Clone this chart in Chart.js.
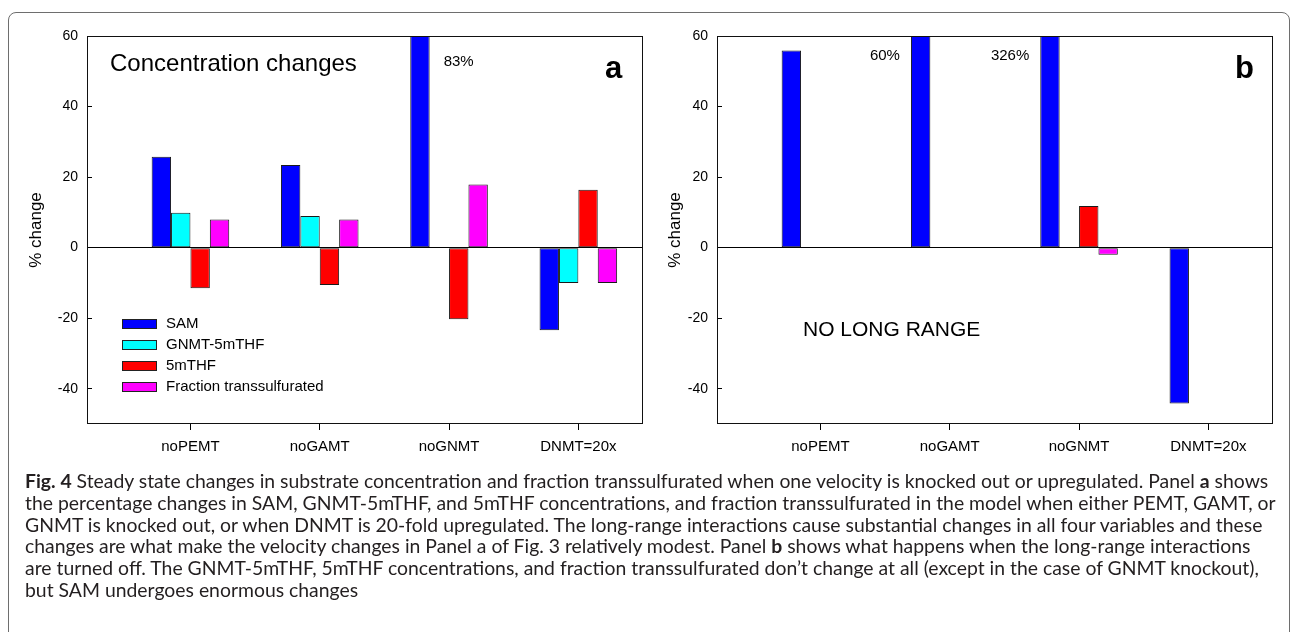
<!DOCTYPE html>
<html>
<head>
<meta charset="utf-8">
<script src="https://cdn.jsdelivr.net/npm/chart.js@4.4.0/dist/chart.umd.min.js"></script>
<style>
  html, body { margin: 0; padding: 0; background: #fff; }
  body { width: 1294px; height: 632px; overflow: hidden; position: relative; }
  #frame { position: absolute; left: 8px; top: 12px; width: 1282px; height: 700px;
           border: 1.5px solid #6e6e6e; border-radius: 8px; box-sizing: border-box; }
  canvas { position: absolute; top: 0; }
  #chartA { left: 0; }
  #chartB { left: 630px; }
  #caption { position: absolute; left: 25px; top: 470px; font-family: Lato, "Open Sans", sans-serif;
             font-size: 18px; line-height: 21.8px; color: #231f20; }
  #caption div { white-space: nowrap; }
</style>
</head>
<body>
<div id="frame"></div>
<canvas id="chartA" width="650" height="470"></canvas>
<canvas id="chartB" width="650" height="470"></canvas>
<div id="caption">
  <div id="capLine1"><b>Fig. 4</b> Steady state changes in substrate concentration and fraction transsulfurated when one velocity is knocked out or upregulated. Panel <b>a</b> shows</div>
  <div>the percentage changes in SAM, GNMT-5mTHF, and 5mTHF concentrations, and fraction transsulfurated in the model when either PEMT, GAMT, or</div>
  <div>GNMT is knocked out, or when DNMT is 20-fold upregulated. The long-range interactions cause substantial changes in all four variables and these</div>
  <div>changes are what make the velocity changes in Panel a of Fig. 3 relatively modest. Panel <b>b</b> shows what happens when the long-range interactions</div>
  <div>are turned off. The GNMT-5mTHF, 5mTHF concentrations, and fraction transsulfurated don’t change at all (except in the case of GNMT knockout),</div>
  <div>but SAM undergoes enormous changes</div>
</div>
<script>
// categories and series
const categories = ['noPEMT', 'noGAMT', 'noGNMT', 'DNMT=20x'];
const seriesNames = ['SAM', 'GNMT-5mTHF', '5mTHF', 'Fraction transsulfurated'];
const seriesColors = ['#0000ff', '#00ffff', '#ff0000', '#ff00ff'];

// panel a: with long-range interactions (% change)
const samA = [25.8, 23.4, 83, -23.4];
const gnmtA = [9.9, 9.0, null, -10.0];
const mthfA = [-11.5, -10.6, -20.3, 16.4];
const fracA = [8.0, 8.0, 17.9, -10.0];

// panel b: no long range (% change)
const samB = [55.9, 60, 326, -44.2];
const gnmtB = [0, 0, null, 0];
const mthfB = [0, 0, 11.8, 0];
const fracB = [0, 0, -2.0, 0];

const yTicks = [-40, -20, 0, 20, 40, 60];
const yMin = -50;
const yMax = 60;

const ARIAL = '"Liberation Sans", Arial, sans-serif';

// frame, legend, texts and off-scale notes
const panelDecor = {
    id: 'panelDecor',
    afterDatasetsDraw(chart, args, opts) {
        const ctx = chart.ctx;
        const a = chart.chartArea;
        ctx.save();

        // plot frame
        ctx.strokeStyle = '#111';
        ctx.lineWidth = 1;
        ctx.strokeRect(a.left + 0.5, a.top + 0.5, a.right - a.left - 1, a.bottom - a.top - 1);

        // texts
        (opts.texts || []).forEach(function(t) {
            ctx.font = t.font;
            ctx.fillStyle = '#000';
            ctx.textAlign = 'left';
            ctx.textBaseline = t.baseline || 'middle';
            const x = t.fromRight ? a.right - t.dx : a.left + t.dx;
            ctx.fillText(t.text, x, a.top + t.dy);
        });

        // values beyond the top of the axis
        const meta = chart.getDatasetMeta(0);
        const values = chart.data.datasets[0].data;
        ctx.font = '15px ' + ARIAL;
        ctx.textBaseline = 'middle';
        values.forEach(function(p, i) {
            if (p.y === null || p.y < yMax) return;
            const bar = meta.data[i];
            const label = p.y + '%';
            if (opts.noteSide === 'right') {
                ctx.textAlign = 'left';
                ctx.fillText(label, bar.x + bar.width / 2 + opts.noteGap, a.top + opts.noteDy);
            } else {
                ctx.textAlign = 'right';
                ctx.fillText(label, bar.x - bar.width / 2 - opts.noteGap, a.top + opts.noteDy);
            }
        });

        // legend
        if (opts.legend) {
            ctx.font = '15px ' + ARIAL;
            ctx.textAlign = 'left';
            ctx.textBaseline = 'middle';
            chart.data.datasets.forEach(function(ds, i) {
                const y = a.top + 288 + i * 21;
                ctx.fillStyle = ds.backgroundColor;
                ctx.fillRect(a.left + 35, y - 5, 35, 10);
                ctx.strokeStyle = '#222';
                ctx.strokeRect(a.left + 35.5, y - 4.5, 34, 9);
                ctx.fillStyle = '#000';
                ctx.fillText(ds.label, a.left + 79, y);
            });
        }
        ctx.restore();
    }
};

function makeChart(id, series, decor, titlePad) {
    const datasets = series.map(function(vals, k) {
        return {
            label: seriesNames[k],
            data: vals.map(function(v, i) { return { x: i, y: v }; }),
            backgroundColor: seriesColors[k],
            borderColor: '#1a1a1a',
            borderWidth: 1,
            borderSkipped: false,
            categoryPercentage: 0.6,
            barPercentage: 1.0,
            clip: 0
        };
    });

    return new Chart(document.getElementById(id), {
        type: 'bar',
        data: { datasets: datasets },
        plugins: [panelDecor],
        options: {
            responsive: false,
            animation: false,
            layout: { padding: { left: 0, right: 7, top: 36, bottom: 0 } },
            plugins: {
                legend: { display: false },
                tooltip: { enabled: false },
                panelDecor: decor
            },
            scales: {
                x: {
                    type: 'linear',
                    min: -0.8,
                    max: 3.5,
                    offset: false,
                    afterBuildTicks: function(s) {
                        s.ticks = categories.map(function(c, i) { return { value: i }; });
                    },
                    afterFit: function(s) { s.height = 46; },
                    ticks: {
                        autoSkip: false,
                        maxRotation: 0,
                        padding: 8,
                        color: '#000',
                        font: { family: ARIAL, size: 15 },
                        callback: function(v, i) { return categories[i]; }
                    },
                    grid: { drawOnChartArea: false, offset: false, tickLength: 6, tickColor: '#000' },
                    border: { display: false }
                },
                y: {
                    min: yMin,
                    max: yMax,
                    afterBuildTicks: function(s) {
                        s.ticks = yTicks.map(function(v) { return { value: v }; });
                    },
                    afterFit: function(s) { s.width = 87; },
                    ticks: {
                        padding: 14,
                        color: '#000',
                        font: { family: ARIAL, size: 14 }
                    },
                    grid: {
                        color: function(c) { return c.tick && c.tick.value === 0 ? '#000' : 'rgba(0,0,0,0)'; },
                        tickColor: '#000',
                        tickLength: -5
                    },
                    border: { display: false },
                    title: {
                        display: true,
                        text: '% change',
                        color: '#000',
                        font: { family: ARIAL, size: 17 },
                        padding: { top: titlePad, bottom: 0 }
                    }
                }
            }
        }
    });
}

makeChart('chartA', [samA, gnmtA, mthfA, fracA], {
    legend: true,
    noteSide: 'right', noteGap: 14, noteDy: 26,
    texts: [
        { text: 'Concentration changes', dx: 23, dy: 28, font: '24px ' + ARIAL },
        { text: 'a', dx: 38, dy: 42, fromRight: true, baseline: 'alphabetic', font: 'bold 31px ' + ARIAL }
    ]
}, 26);

makeChart('chartB', [samB, gnmtB, mthfB, fracB], {
    legend: false,
    noteSide: 'left', noteGap: 11, noteDy: 20,
    texts: [
        { text: 'NO LONG RANGE', dx: 86, dy: 294, font: '21px ' + ARIAL },
        { text: 'b', dx: 38, dy: 42, fromRight: true, baseline: 'alphabetic', font: 'bold 31px ' + ARIAL }
    ]
}, 35);

// fit the caption to the width of the original text block
(function fitCaption() {
    const cap = document.getElementById('caption');
    const line1 = document.getElementById('capLine1');
    const w = line1.scrollWidth;
    const target = 1252;
    cap.style.fontSize = (18 * target / w).toFixed(2) + 'px';
})();
</script>
</body>
</html>
